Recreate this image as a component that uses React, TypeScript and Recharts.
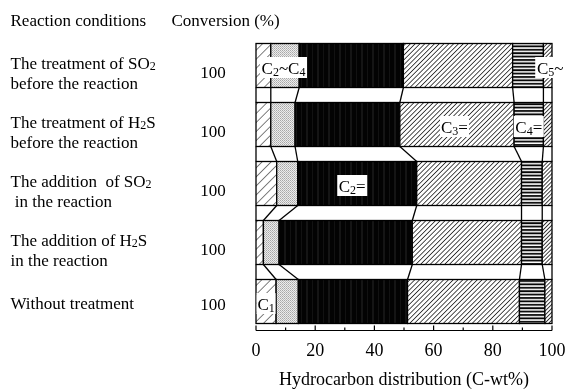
import React from "react";
import { BarChart, Bar, XAxis, YAxis, LabelList } from "recharts";

// reaction conditions, top to bottom ("_2" marks a subscript, "\n" a line break)
const conditions = [
  "The treatment of SO_2\nbefore the reaction",
  "The treatment of H_2S\nbefore the reaction",
  "The addition  of SO_2\n in the reaction",
  "The addition of H_2S\nin the reaction",
  "Without treatment",
];
const conversion = [100, 100, 100, 100, 100];

// hydrocarbon distribution, C-wt%
const c1 = [5.0, 5.0, 7.0, 2.5, 6.8];
const c2c4 = [9.6, 8.2, 7.1, 5.3, 7.5];
const ethylene = [35.2, 35.4, 40.2, 45.0, 36.9];
const propylene = [36.9, 38.6, 35.4, 36.9, 37.8];
const butenes = [10.4, 9.9, 7.0, 7.0, 8.6];
const c5plus = [2.9, 2.9, 3.3, 3.3, 2.4];

const xTicks = [0, 10, 20, 30, 40, 50, 60, 70, 80, 90, 100];

const series = [
  { key: "c1", values: c1, fill: "url(#patC1)" },
  { key: "c2c4", values: c2c4, fill: "url(#patC2C4)" },
  { key: "c2e", values: ethylene, fill: "url(#patC2e)" },
  { key: "c3e", values: propylene, fill: "url(#patC3e)" },
  { key: "c4e", values: butenes, fill: "url(#patC4e)" },
  { key: "c5", values: c5plus, fill: "url(#patC5)" },
];

// in-bar tags: which segment, which row
const tags = [
  { series: 1, row: 0, text: "C_2~C_4", box: 47, dx: -1.5 },
  { series: 5, row: 0, text: "C_5~", box: 30, dx: 2.5 },
  { series: 3, row: 1, text: "C_3=", box: 29, dx: -2.5 },
  { series: 4, row: 1, text: "C_4=", box: 30, dx: 0 },
  { series: 2, row: 2, text: "C_2=", box: 30, dx: -5 },
  { series: 0, row: 4, text: "C_1", box: 19, dx: 0 },
];

const data = conditions.map((condition, i) => {
  const row: Record<string, any> = { condition };
  series.forEach((s) => (row[s.key] = s.values[i]));
  return row;
});

// cumulative right edge of each segment, per series and row
const cum = series.map((_, k) =>
  conditions.map((__, i) => series.slice(0, k + 1).reduce((a, s) => a + s.values[i], 0))
);

const W = 558;
const H = 381;
const MARGIN = { top: 27.5, right: 14, bottom: 28.5, left: 0 };
const X_AXIS_H = 30;
const BAR = 44;
const BAND = (H - MARGIN.top - MARGIN.bottom - X_AXIS_H) / conditions.length;
const GAP = BAND - BAR;
const FONT = "'Liberation Serif', 'Times New Roman', serif";
const LINE = 1.3;

const withSubs = (s: string, sub: number, shift: number) =>
  s.split(/_(\d)/).map((part, j) =>
    j % 2 ? (
      <tspan key={j} fontSize={sub} dy={shift}>
        {part}
      </tspan>
    ) : (
      <tspan key={j} dy={j ? -shift : 0}>
        {part}
      </tspan>
    )
  );

const segmentShape = (k: number) => (props: any) => {
  const { x, y, width, height, index } = props;
  const own = series[k].values[index];
  const unit = width / own;
  const origin = x - (cum[k][index] - own) * unit;
  const bottom = y + height;
  const next = index + 1 < conditions.length ? index + 1 : -1;
  return (
    <g>
      <rect x={x} y={y} width={width} height={height} fill={series[k].fill} stroke="#000" strokeWidth={LINE} />
      {next > 0 && (
        <line
          x1={x + width}
          y1={bottom}
          x2={origin + cum[k][next] * unit}
          y2={bottom + GAP}
          stroke="#000"
          strokeWidth={LINE}
        />
      )}
      {next > 0 && k === 0 && (
        <line x1={origin} y1={bottom} x2={origin} y2={bottom + GAP} stroke="#000" strokeWidth={LINE} />
      )}
    </g>
  );
};

const last = series.length - 1;

const SegmentTags = (props: any) => {
  const vb = props.viewBox ?? props;
  const { x, y, width, height } = vb;
  const index = props.index;
  const own = series[last].values[index];
  const unit = width / own;
  const origin = x - (cum[last][index] - own) * unit;
  const cy = y + height / 2 + 2;
  return (
    <g>
      {tags
        .filter((t) => t.row === index)
        .map((t) => {
          const start = cum[t.series][index] - series[t.series].values[index];
          const cx = origin + ((start + cum[t.series][index]) / 2) * unit + t.dx;
          return (
            <g key={t.text}>
              <rect x={cx - t.box / 2} y={cy - 10.5} width={t.box} height={21} fill="#fff" />
              <text x={cx} y={cy + 6} textAnchor="middle" fontSize={17} fontFamily={FONT} fill="#000">
                {withSubs(t.text, 12, 2)}
              </text>
            </g>
          );
        })}
    </g>
  );
};

const ConditionTick = (props: any) => {
  const { y, payload, index } = props;
  const lines = String(payload.value).split("\n");
  const single = lines.length === 1;
  return (
    <g>
      {lines.map((ln, j) => (
        <text
          key={j}
          x={2.5}
          y={y + (single ? 7.5 : 3.5 + j * 20.5)}
          fontSize={17}
          fontFamily={FONT}
          fill="#000"
          style={{ whiteSpace: "pre" }}
        >
          {withSubs(ln, 12, 1)}
        </text>
      ))}
      <text x={205} y={y + (single ? 8.5 : 12.5)} textAnchor="middle" fontSize={17} fontFamily={FONT} fill="#000">
        {conversion[index]}
      </text>
    </g>
  );
};

const Headers = (props: any) => {
  const { y } = props.viewBox;
  return (
    <g>
      <text x={2.5} y={y - 10} fontSize={17} fontFamily={FONT} fill="#000">
        Reaction conditions
      </text>
      <text x={163.5} y={y - 10} fontSize={17} fontFamily={FONT} fill="#000">
        Conversion (%)
      </text>
    </g>
  );
};

const DistTick = (props: any) => {
  const { x, y, payload } = props;
  const major = payload.value % 20 === 0;
  return (
    <g>
      <line x1={x} x2={x} y1={y} y2={y - (major ? 5 : 3)} stroke="#000" strokeWidth={1.2} />
      {major && (
        <text x={x} y={y + 25} textAnchor="middle" fontSize={18} fontFamily={FONT} fill="#000">
          {payload.value}
        </text>
      )}
    </g>
  );
};

const AxisTitle = (props: any) => {
  const { x, y, width } = props.viewBox;
  return (
    <text x={x + width / 2} y={y + 54.5} textAnchor="middle" fontSize={18} fontFamily={FONT} fill="#000">
      Hydrocarbon distribution (C-wt%)
    </text>
  );
};

export default function App() {
  return (
    <div style={{ position: "fixed", left: 8, top: 8, width: W, height: H, overflow: "hidden" }}>
      <BarChart width={W} height={H} data={data} layout="vertical" margin={MARGIN} barSize={BAR}>
        <defs>
          <pattern id="patC1" width={6.4} height={6.4} patternUnits="userSpaceOnUse" patternTransform="rotate(45)">
            <rect width={6.4} height={6.4} fill="#fff" />
            <line x1={0} y1={0} x2={0} y2={6.4} stroke="#000" strokeWidth={1} />
          </pattern>
          <pattern id="patC2C4" width={2} height={2} patternUnits="userSpaceOnUse">
            <rect width={2} height={2} fill="#ececec" />
            <rect width={1} height={1} fill="#a8a8a8" />
            <rect x={1} y={1} width={1} height={1} fill="#bdbdbd" />
          </pattern>
          <pattern id="patC2e" width={11} height={4} patternUnits="userSpaceOnUse">
            <rect width={11} height={4} fill="#030303" />
            <line x1={2} y1={0} x2={2} y2={4} stroke="#2e2e2e" strokeWidth={0.8} />
            <line x1={7.5} y1={0} x2={7.5} y2={4} stroke="#1c1c1c" strokeWidth={0.6} />
          </pattern>
          <pattern id="patC3e" width={3.4} height={3.4} patternUnits="userSpaceOnUse" patternTransform="rotate(45)">
            <rect width={3.4} height={3.4} fill="#fff" />
            <line x1={0} y1={0} x2={0} y2={3.4} stroke="#000" strokeWidth={1.4} />
          </pattern>
          <pattern id="patC4e" width={4} height={3.4} patternUnits="userSpaceOnUse">
            <rect width={4} height={3.4} fill="#fff" />
            <line x1={0} y1={1} x2={4} y2={1} stroke="#000" strokeWidth={1.8} />
          </pattern>
          <pattern id="patC5" width={2.8} height={2.8} patternUnits="userSpaceOnUse" patternTransform="rotate(45)">
            <rect width={2.8} height={2.8} fill="#fff" />
            <line x1={0} y1={0} x2={0} y2={2.8} stroke="#000" strokeWidth={1.5} />
          </pattern>
        </defs>
        <XAxis
          type="number"
          domain={[0, 100]}
          ticks={xTicks}
          interval={0}
          height={X_AXIS_H}
          tickSize={0}
          tickMargin={0}
          tickLine={false}
          axisLine={{ stroke: "#000", strokeWidth: 1.2 }}
          tick={<DistTick />}
          label={{ content: AxisTitle }}
        />
        <YAxis
          type="category"
          dataKey="condition"
          width={248}
          interval={0}
          axisLine={false}
          tickLine={false}
          tick={<ConditionTick />}
          label={{ content: Headers }}
        />
        {series.map((s, k) => (
          <Bar key={s.key} dataKey={s.key} stackId="dist" isAnimationActive={false} shape={segmentShape(k)}>
            {k === last && <LabelList dataKey={s.key} content={SegmentTags} />}
          </Bar>
        ))}
      </BarChart>
    </div>
  );
}
